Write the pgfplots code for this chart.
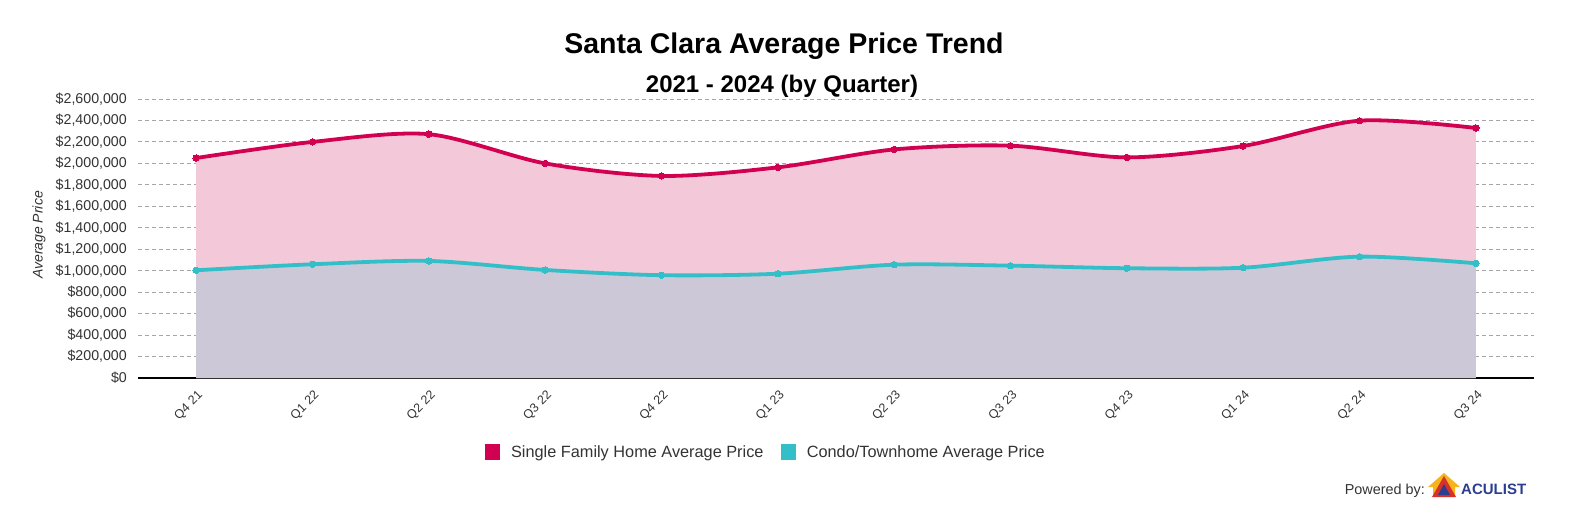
\documentclass[border=0pt]{standalone}
\usepackage{fontspec}
\setmainfont{Liberation Sans}
\usepackage{pgfplots}
\pgfplotsset{compat=1.18}
\definecolor{sfh}{HTML}{D10050}
\definecolor{sfhfill}{HTML}{F3C9D9}
\definecolor{condo}{HTML}{33BFC8}
\definecolor{condofill}{HTML}{CCC8D7}
\definecolor{txt}{HTML}{333333}
\definecolor{gridc}{HTML}{A6A6A6}
\definecolor{logoblue}{HTML}{2B3E8F}
\definecolor{logored}{HTML}{D8312A}
\definecolor{logoyellow}{HTML}{F5B41C}

\pgfplotstableread{
x y
0 2050000
1 2200000
2 2272000
3 2000000
4 1883000
5 1963000
6 2130000
7 2165000
8 2056000
9 2162000
10 2398000
11 2330000
}\sfhdata

\pgfplotstableread{
x y
0 1004000
1 1060000
2 1091000
3 1007000
4 958000
5 972000
6 1056000
7 1047000
8 1023000
9 1028000
10 1131000
11 1069000
}\condodata

\begin{document}
\begin{tikzpicture}[x=1pt,y=1pt]
\path[use as bounding box] (0,0) rectangle (1581,504);
\begin{axis}[
  at={(138pt,126pt)}, anchor=south west, scale only axis,
  width=1396pt, height=279pt,
  xmin=-0.5, xmax=11.5, ymin=0, ymax=2600000,
  axis lines*=left,
  y axis line style={draw=none},
  x axis line style={black, line width=1.3pt},
  major tick length=0pt,
  ymajorgrids,
  grid style={gridc, line width=0.9pt, dash pattern=on 4pt off 3pt},
  xtick={0,1,2,3,4,5,6,7,8,9,10,11},
  xticklabels={Q4 21,Q1 22,Q2 22,Q3 22,Q4 22,Q1 23,Q2 23,Q3 23,Q4 23,Q1 24,Q2 24,Q3 24},
  ytick={0,200000,400000,600000,800000,1000000,1200000,1400000,1600000,1800000,2000000,2200000,2400000,2600000},
  yticklabels={{\$0},{\$200,000},{\$400,000},{\$600,000},{\$800,000},{\$1,000,000},{\$1,200,000},{\$1,400,000},{\$1,600,000},{\$1,800,000},{\$2,000,000},{\$2,200,000},{\$2,400,000},{\$2,600,000}},
  scaled y ticks=false,
  yticklabel style={anchor=east, inner sep=0pt, xshift=-11pt, font=\fontsize{14.2}{16}\selectfont, text=txt},
  xticklabel style={rotate=45, anchor=east, inner sep=0pt, xshift=-7.6pt, yshift=-14.4pt, font=\fontsize{12.5}{15}\selectfont, text=txt},
  legend style={at={(0.449,-0.265)}, anchor=center, draw=none, fill=none,
    legend columns=2, font=\fontsize{16.3}{19}\selectfont, text=txt,
    nodes={inner sep=0pt},
    /tikz/every odd column/.append style={column sep=11pt},
    /tikz/every even column/.append style={column sep=17pt},
    legend cell align=left},
  clip=false,
]
\addplot[draw=none, fill=sfhfill, smooth, forget plot] table {\sfhdata} \closedcycle;
\addplot[draw=none, fill=condofill, smooth, forget plot] table {\condodata} \closedcycle;
\addplot[sfh, line width=3.8pt, smooth, mark=*, mark size=3.2pt, mark options={solid, line width=0pt},
  legend image code/.code={\fill[sfh] (0pt,-5.5pt) rectangle (11.5pt,6pt);}] table {\sfhdata};
\addlegendentry{Single Family Home Average Price}
\addplot[condo, line width=3.8pt, smooth, mark=*, mark size=3.2pt, mark options={solid, line width=0pt},
  legend image code/.code={\fill[condo] (0pt,-5.5pt) rectangle (11.5pt,6pt);}] table {\condodata};
\addlegendentry{Condo/Townhome Average Price}
\end{axis}
\node[font=\bfseries\fontsize{28.5}{33}\selectfont] at (784,458) {Santa Clara Average Price Trend};
\node[font=\bfseries\fontsize{24}{28}\selectfont] at (782,418) {2021 - 2024 (by Quarter)};
\node[rotate=90, font=\itshape\fontsize{14}{16}\selectfont, text=txt] at (39,269) {Average Price};
\node[anchor=east, font=\fontsize{14.4}{17}\selectfont, text=txt, inner sep=0pt] at (1425,13) {Powered by:};
% logo
\fill[logoyellow] (1428,17) -- (1444,31) -- (1460,17) -- (1455,17) -- (1455,8) -- (1433,8) -- (1433,17) -- cycle;
\fill[logored] (1432,7) -- (1444,28) -- (1456,7) -- cycle;
\fill[logoblue] (1438,9) -- (1444,20) -- (1450,9) -- cycle;
\node[anchor=west, font=\bfseries\fontsize{15}{17}\selectfont, text=logoblue, inner sep=0pt] at (1461,15) {ACULIST};
\end{tikzpicture}
\end{document}
